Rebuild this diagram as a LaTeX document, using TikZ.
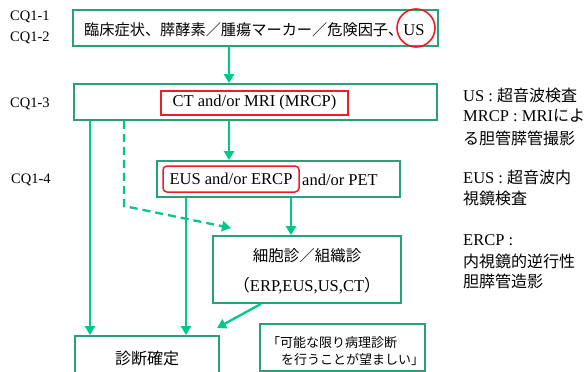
\documentclass[tikz,border=0pt]{standalone}
\usepackage{fontspec}
\setmainfont{Liberation Serif}
\newfontfamily\jp{Noto Sans CJK JP}
\usetikzlibrary{arrows.meta,calc}
\definecolor{boxgreen}{RGB}{40,160,120}
\definecolor{arrgreen}{RGB}{0,200,140}
\definecolor{mkred}{RGB}{235,30,40}
\newcommand\jpl[1]{{\fontsize{16}{18}\selectfont\jp #1}}
\tikzset{
 box/.style={draw=boxgreen, line width=1.8pt, inner sep=0pt},
 redbox/.style={draw=mkred, line width=1.5pt, inner sep=0pt},
 flow/.style={draw=arrgreen, line width=2.3pt, -{Triangle[length=9pt,width=10pt]}},
 dflow/.style={flow, dash pattern=on 8pt off 5pt},
 cq/.style={font=\fontsize{14.5}{16}\selectfont, inner sep=0pt, anchor=west},
 lat/.style={font=\fontsize{16.5}{18}\selectfont, inner sep=0pt},
 jptxt/.style={font=\fontsize{15.5}{17}\selectfont\jp, inner sep=0pt},
 legend/.style={font=\fontsize{16.5}{18}\selectfont, inner sep=0pt, anchor=west},
}
\begin{document}
\begin{tikzpicture}[x=1pt,y=-1pt]
\clip (0,0) rectangle (584,372);
\fill[white] (0,0) rectangle (584,372);

% left labels
\node[cq] (cq1) at (10,17) {CQ1-1};
\node[cq] (cq2) at (10,38) {CQ1-2};
\node[cq] (cq3) at (10,104) {CQ1-3};
\node[cq] (cq4) at (11,180) {CQ1-4};

% box 1
\node[box, minimum width=365pt, minimum height=36pt] (b1) at (255.5,28) {};
\node[inner sep=0pt, anchor=west, font=\fontsize{16.5}{18}\selectfont] (t1) at (84,30)
  {{\fontsize{15.2}{17}\selectfont\jp 臨床症状、膵酵素／腫瘍マーカー／危険因子、}US};
\node[circle, draw=mkred, line width=1.6pt, minimum size=38pt] (uscirc) at (416,28) {};

% box 2
\node[box, minimum width=363pt, minimum height=36pt] (b2) at (255.5,102) {};
\node[redbox, lat, minimum width=187pt, minimum height=24pt] (r2) at (254.5,103) {CT and/or MRI (MRCP)};

% box 3
\node[box, minimum width=243pt, minimum height=36pt] (b3) at (278.5,179) {};
\node[redbox, rounded corners=4pt, lat, minimum width=136pt, minimum height=26pt] (r3) at (231,179) {EUS and/or ERCP};
\node[lat, anchor=west] (pet) at (302,180) {and/or PET};

% box 4
\node[box, minimum width=188pt, minimum height=67pt] (b4) at (307,269.5) {};
\node[jptxt] (t4a) at (307,256) {細胞診／組織診};
\node[lat] (t4b) at (307,286) {{\jp （}ERP,EUS,US,CT{\jp ）}};

% box 5
\node[box, minimum width=144pt, minimum height=50pt] (b5) at (147,361) {};
\node[inner sep=0pt, font=\fontsize{16}{18}\selectfont\jp] (t5) at (147,358) {診断確定};

% box 6
\node[box, minimum width=165pt, minimum height=47pt] (b6) at (342.5,347.5) {};
\node[inner sep=0pt, anchor=west, font=\fontsize{13}{15}\selectfont\jp] (t6a) at (267,343) {「可能な限り病理診断};
\node[inner sep=0pt, anchor=west, font=\fontsize{13}{15}\selectfont\jp] (t6b) at (281,360) {を行うことが望ましい」};

% legend
\node[legend] (l1) at (463,95) {US : \jpl{超音波検査}};
\node[legend] (l2) at (463,116) {MRCP : MRI\jpl{によ}};
\node[legend] (l3) at (463,138) {\jpl{る胆管膵管撮影}};
\node[legend] (l4) at (463,177) {EUS : \jpl{超音波内}};
\node[legend] (l5) at (463,198) {\jpl{視鏡検査}};
\node[legend] (l6) at (463,240) {ERCP :};
\node[legend] (l7) at (463,261) {\jpl{内視鏡的逆行性}};
\node[legend] (l8) at (463,281) {\jpl{胆膵管造影}};

% helper coordinates
\coordinate (xa) at (229,0);
\coordinate (xb) at (291,0);
\coordinate (xc) at (90,0);
\coordinate (xd) at (186,0);
\coordinate (xe) at (261,0);
\coordinate (xf) at (124,0);
\coordinate (e5) at (217,328);
\coordinate (dk) at (124,206);
\coordinate (de) at (231,228);

% connectors
\draw[flow] (b1.south -| xa) -- (b2.north -| xa);
\draw[flow] (b2.south -| xa) -- (b3.north -| xa);
\draw[flow] (b3.south -| xb) -- (b4.north -| xb);
\draw[flow] (b2.south -| xc) -- (b5.north -| xc);
\draw[flow] (b3.south -| xd) -- (b5.north -| xd);
\draw[flow] (b4.south -| xe) -- (e5);
\draw[dflow] (b2.south -| xf) -- (dk) -- (de);
\end{tikzpicture}
\end{document}
